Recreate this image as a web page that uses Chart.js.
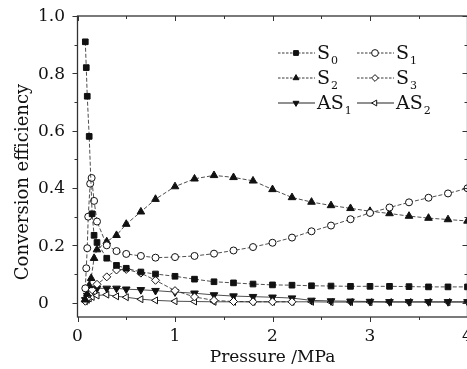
<!DOCTYPE html>
<html>
<head>
<meta charset="utf-8">
<script src="https://cdn.jsdelivr.net/npm/chart.js@4.4.1/dist/chart.umd.min.js"></script>
<style>
  html, body { margin: 0; padding: 0; overflow: hidden; background: #fff; }
</style>
</head>
<body>
<canvas id="chart" width="490" height="369"></canvas>
<script>
// pressure (MPa) and conversion efficiency
const pS0 = [0.08, 0.09, 0.1, 0.12, 0.15, 0.17, 0.2, 0.3, 0.4, 0.5, 0.65, 0.8,
  1.0, 1.2, 1.4, 1.6, 1.8, 2.0, 2.2, 2.4, 2.6, 2.8, 3.0, 3.2, 3.4, 3.6, 3.8, 4.0];
const s0 = [0.91, 0.82, 0.72, 0.58, 0.31, 0.235, 0.21, 0.155, 0.13, 0.12, 0.107, 0.10,
  0.092, 0.082, 0.073, 0.069, 0.065, 0.062, 0.061, 0.059, 0.058, 0.057, 0.057, 0.057, 0.056, 0.055, 0.055, 0.055];

const pS1 = [0.08, 0.09, 0.1, 0.11, 0.13, 0.145, 0.17, 0.2, 0.3, 0.4, 0.5, 0.65, 0.8,
  1.0, 1.2, 1.4, 1.6, 1.8, 2.0, 2.2, 2.4, 2.6, 2.8, 3.0, 3.2, 3.4, 3.6, 3.8, 4.0];
const s1 = [0.05, 0.12, 0.19, 0.30, 0.415, 0.435, 0.355, 0.283, 0.20, 0.18, 0.17, 0.163, 0.157,
  0.159, 0.163, 0.171, 0.182, 0.194, 0.209, 0.227, 0.249, 0.269, 0.291, 0.313, 0.332, 0.35, 0.366, 0.381, 0.399];

const pS2 = [0.08, 0.1, 0.12, 0.14, 0.17, 0.2, 0.3, 0.4, 0.5, 0.65, 0.8,
  1.0, 1.2, 1.4, 1.6, 1.8, 2.0, 2.2, 2.4, 2.6, 2.8, 3.0, 3.2, 3.4, 3.6, 3.8, 4.0];
const s2 = [0.01, 0.03, 0.06, 0.085, 0.155, 0.185, 0.213, 0.235, 0.274, 0.317, 0.361,
  0.405, 0.432, 0.444, 0.437, 0.425, 0.395, 0.367, 0.351, 0.339, 0.329, 0.319, 0.311, 0.302, 0.295, 0.29, 0.285];

const pS3 = [0.08, 0.1, 0.12, 0.15, 0.2, 0.3, 0.4, 0.5, 0.65, 0.8, 1.0, 1.2, 1.4, 1.6, 1.8, 2.0, 2.2];
const s3 = [0.005, 0.015, 0.03, 0.045, 0.064, 0.09, 0.114, 0.116, 0.103, 0.078, 0.042, 0.02, 0.008, 0.004, 0.003, 0.003, 0.003];

const pAS = [0.08, 0.1, 0.12, 0.15, 0.2, 0.3, 0.4, 0.5, 0.65, 0.8,
  1.0, 1.2, 1.4, 1.6, 1.8, 2.0, 2.2, 2.4, 2.6, 2.8, 3.0, 3.2, 3.4, 3.6, 3.8, 4.0];
const as1 = [0.01, 0.025, 0.035, 0.045, 0.05, 0.05, 0.05, 0.047, 0.045, 0.042,
  0.037, 0.033, 0.027, 0.023, 0.021, 0.019, 0.016, 0.008, 0.006, 0.005, 0.004, 0.003, 0.003, 0.003, 0.003, 0.003];
const as2 = [0.005, 0.01, 0.015, 0.02, 0.025, 0.028, 0.022, 0.019, 0.012, 0.008,
  0.005, 0.004, 0.003, 0.003, 0.003, 0.003, 0.003, 0.003, 0.002, 0.002, 0.002, 0.002, 0.002, 0.002, 0.002, 0.002];

const seriesNames = ['S', 'S', 'S', 'S', 'AS', 'AS'];
const seriesSubs = ['0', '1', '2', '3', '1', '2'];
const xTicks = [0, 1, 2, 3, 4];
const yTicks = [0, 0.2, 0.4, 0.6, 0.8, 1.0];
const yTickLabels = ['0', '0.2', '0.4', '0.6', '0.8', '1.0'];

const FONT = '"DejaVu Serif", "Liberation Serif", serif';
const INK = '#111';

function pts(xs, ys) {
  return xs.map((x, i) => ({ x: x, y: ys[i] }));
}

function series(i, xs, ys, style, fill, rotation, radius, dash) {
  return {
    label: seriesNames[i] + seriesSubs[i],
    data: pts(xs, ys),
    showLine: true,
    borderColor: '#222',
    borderWidth: 0.8,
    borderDash: dash,
    pointStyle: style,
    pointRotation: rotation,
    pointRadius: radius,
    pointBackgroundColor: fill,
    pointBorderColor: INK,
    pointBorderWidth: 1,
    tension: 0
  };
}

const datasets = [
  series(0, pS0, s0, 'rect', INK, 0, 4.0, [4, 2]),
  series(1, pS1, s1, 'circle', '#fff', 0, 3.5, [4, 2]),
  series(2, pS2, s2, 'triangle', INK, 0, 4.4, [4, 2]),
  series(3, pS3, s3, 'rectRot', '#fff', 0, 4.0, [4, 2]),
  series(4, pAS, as1, 'triangle', INK, 180, 4.4, []),
  series(5, pAS, as2, 'triangle', '#fff', 270, 4.0, [])
];

// axis frame, tick marks, y labels + title and the two-column legend
const decor = {
  id: 'decor',
  afterDraw(chart) {
    const ctx = chart.ctx;
    const a = chart.chartArea;
    const xs = chart.scales.x, ys = chart.scales.y;
    ctx.save();
    ctx.strokeStyle = '#333';
    ctx.lineWidth = 1.3;
    ctx.strokeRect(a.left, a.top, a.right - a.left, a.bottom - a.top);

    ctx.lineWidth = 1;
    ctx.beginPath();
    for (let v = 0; v <= 4.001; v += 0.5) {
      const px = Math.round(xs.getPixelForValue(v)) + 0.5;
      const major = Math.abs(v - Math.round(v)) < 1e-6;
      const len = major ? 5 : 3;
      ctx.moveTo(px, a.bottom); ctx.lineTo(px, a.bottom + len);
      ctx.moveTo(px, a.top); ctx.lineTo(px, a.top + len);
    }
    for (let k = 0; k <= 10; k++) {
      const v = k / 10;
      const py = Math.round(ys.getPixelForValue(v)) + 0.5;
      const len = k % 2 === 0 ? 5 : 3;
      ctx.moveTo(a.left, py); ctx.lineTo(a.left - len, py);
      ctx.moveTo(a.right, py); ctx.lineTo(a.right - len, py);
    }
    ctx.stroke();

    // y tick labels, left-aligned like the original
    ctx.fillStyle = INK;
    ctx.font = '17px ' + FONT;
    ctx.textAlign = 'left';
    ctx.textBaseline = 'middle';
    yTicks.forEach((v, i) => {
      ctx.fillText(yTickLabels[i], 38, ys.getPixelForValue(v) + 1);
    });

    // y axis title
    ctx.font = '18px ' + FONT;
    ctx.textAlign = 'center';
    ctx.translate(23, 182);
    ctx.rotate(-Math.PI / 2);
    ctx.fillText('Conversion efficiency', 0, 0);
    ctx.restore();

    // legend
    const cols = [278, 357];
    const rows = [53, 78, 103];
    chart.data.datasets.forEach((ds, i) => {
      const x0 = cols[i % 2];
      const y0 = rows[Math.floor(i / 2)];
      ctx.save();
      ctx.strokeStyle = '#222';
      ctx.lineWidth = i >= 4 ? 1.2 : 0.9;
      ctx.setLineDash(i >= 4 ? [] : [2.5, 1.5]);
      ctx.beginPath();
      ctx.moveTo(x0, y0); ctx.lineTo(x0 + 37, y0);
      ctx.stroke();
      ctx.setLineDash([]);
      ctx.fillStyle = ds.pointBackgroundColor;
      ctx.strokeStyle = INK;
      ctx.lineWidth = 1;
      Chart.helpers.drawPoint(ctx, {
        pointStyle: ds.pointStyle, rotation: ds.pointRotation,
        radius: 3.4, borderWidth: 1
      }, x0 + 18, y0);
      ctx.fillStyle = INK;
      ctx.textBaseline = 'alphabetic';
      ctx.textAlign = 'left';
      ctx.font = '19px ' + FONT;
      const name = seriesNames[i];
      ctx.fillText(name, x0 + 39, y0 + 6);
      const w = ctx.measureText(name).width;
      ctx.font = '11px ' + FONT;
      ctx.fillText(seriesSubs[i], x0 + 40 + w, y0 + 11);
      ctx.restore();
    });
  }
};

new Chart(document.getElementById('chart'), {
  type: 'scatter',
  data: { datasets: datasets },
  options: {
    responsive: false,
    devicePixelRatio: 1,
    animation: false,
    layout: { padding: { left: 0, right: 22.5, top: 16, bottom: 0 } },
    plugins: { legend: { display: false }, tooltip: { enabled: false } },
    scales: {
      x: {
        type: 'linear',
        min: 0, max: 4,
        afterBuildTicks: s => { s.ticks = xTicks.map(v => ({ value: v })); },
        ticks: { color: INK, font: { family: FONT, size: 17 }, padding: 1, maxRotation: 0 },
        grid: { display: false },
        border: { display: false },
        title: { display: true, text: 'Pressure /MPa', color: INK,
          font: { family: FONT, size: 17 }, padding: { top: 0, bottom: 1 } },
        afterFit: s => { s.height = 52; }
      },
      y: {
        type: 'linear',
        min: -0.05, max: 1.0,
        afterBuildTicks: s => { s.ticks = yTicks.map(v => ({ value: v })); },
        ticks: { display: false },
        grid: { display: false },
        border: { display: false },
        afterFit: s => { s.width = 77.5; }
      }
    }
  },
  plugins: [decor]
});
</script>
</body>
</html>
